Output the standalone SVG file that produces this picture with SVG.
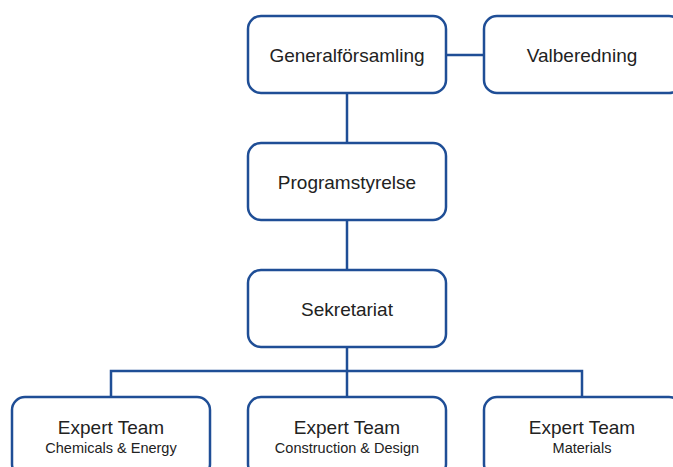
<svg xmlns="http://www.w3.org/2000/svg" width="673" height="467" viewBox="0 0 673 467">
<style>
.box{fill:#fff;stroke:#1f4e96;stroke-width:2.5}
.con{fill:none;stroke:#1f4e96;stroke-width:2.5}
.t{font-family:"Liberation Sans",Arial,sans-serif;font-size:19px;fill:#222;text-anchor:middle}
.s{font-family:"Liberation Sans",Arial,sans-serif;font-size:14.5px;fill:#222;text-anchor:middle}
</style>
<rect width="673" height="467" fill="#fff"/>
<g id="connectors">
<path class="con" d="M446 55H484"/>
<path class="con" d="M347 93V143"/>
<path class="con" d="M347 220V270"/>
<path class="con" d="M347 347V397"/>
<path class="con" d="M111 397V371H582V397"/>
</g>
<g id="generalforsamling"><rect class="box" x="248" y="16" width="198" height="77" rx="13"/><text class="t" x="347" y="61.5">Generalförsamling</text></g>
<g id="valberedning"><rect class="box" x="484" y="16" width="198" height="77" rx="13"/><text class="t" x="582" y="61.5">Valberedning</text></g>
<g id="programstyrelse"><rect class="box" x="248" y="143" width="198" height="77" rx="13"/><text class="t" x="347" y="188.5">Programstyrelse</text></g>
<g id="sekretariat"><rect class="box" x="248" y="270" width="198" height="77" rx="13"/><text class="t" x="347" y="315.5">Sekretariat</text></g>
<g id="team1"><rect class="box" x="12" y="397" width="198" height="80" rx="13"/><text class="t" x="111" y="434">Expert Team</text><text class="s" x="111" y="453">Chemicals &amp; Energy</text></g>
<g id="team2"><rect class="box" x="248" y="397" width="198" height="80" rx="13"/><text class="t" x="347" y="434">Expert Team</text><text class="s" x="347" y="453">Construction &amp; Design</text></g>
<g id="team3"><rect class="box" x="484" y="397" width="198" height="80" rx="13"/><text class="t" x="582" y="434">Expert Team</text><text class="s" x="582" y="453">Materials</text></g>
</svg>
